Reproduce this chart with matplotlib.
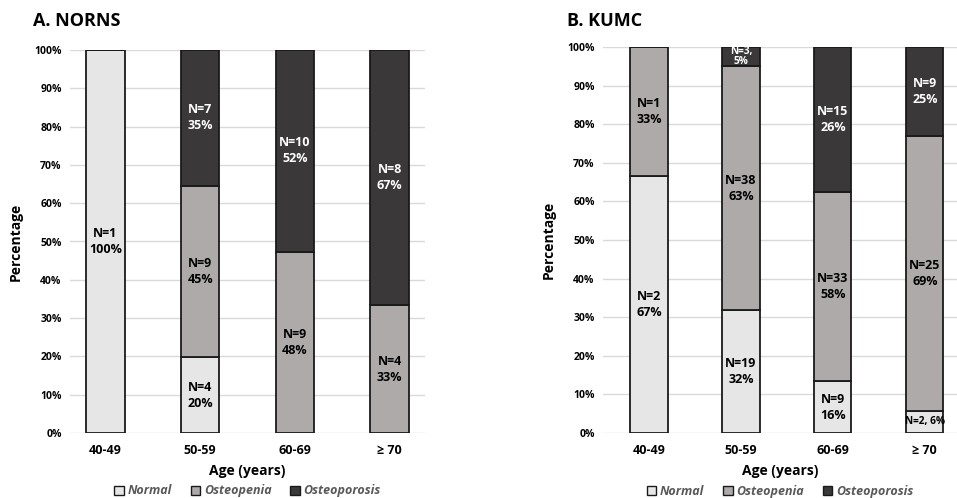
import numpy as np
import matplotlib
matplotlib.use("Agg")
import matplotlib.pyplot as plt
from matplotlib.patches import Patch

plt.rcParams['font.family'] = ['Open Sans', 'DejaVu Sans']

ages = ['40-49', '50-59', '60-69', '\u2265 70']
groups = ['Normal', 'Osteopenia', 'Osteoporosis']
colors = ['#e7e6e6', '#aeaaaa', '#3a3838']
txt_colors = ['black', 'black', 'white']

# A. NORNS  (bar heights in %, counts and % shown in the labels)
norns_height = [[100, 19.8, 0, 0], [0, 44.7, 47.3, 33.4], [0, 35.5, 52.7, 66.6]]
norns_n = [[1, 4, 0, 0], [0, 9, 9, 4], [0, 7, 10, 8]]
norns_pct = [[100, 20, 0, 0], [0, 45, 48, 33], [0, 35, 52, 67]]

# B. KUMC
kumc_height = [[66.6, 31.8, 13.4, 5.7], [33.4, 63.2, 49.1, 71.3], [0, 5.0, 37.5, 23.0]]
kumc_n = [[2, 19, 9, 2], [1, 38, 33, 25], [0, 3, 15, 9]]
kumc_pct = [[67, 32, 16, 6], [33, 63, 58, 69], [0, 5, 26, 25]]


def draw(ax, heights, counts, pcts, small=()):
    heights = np.array(heights, dtype=float) / 100
    x = np.arange(len(ages))
    bottom = np.zeros(len(ages))
    for i in range(3):
        ax.bar(x, heights[i], 0.405, bottom=bottom, color=colors[i],
               edgecolor='#1a1a1a', linewidth=1.3, zorder=3)
        for j in range(len(ages)):
            if counts[i][j] == 0:
                continue
            yc = bottom[j] + heights[i, j] / 2
            n = counts[i][j]
            if (i, j) in small:
                if i == 2:
                    s = 'N=%d,\n%d%%' % (n, pcts[i][j])
                else:
                    s = 'N=%d, %d%%' % (n, pcts[i][j])
                ax.text(x[j], yc, s, ha='center', va='center', fontsize=7.3,
                        fontweight='bold', color=txt_colors[i], zorder=4,
                        linespacing=0.95)
            else:
                ax.text(x[j], yc, 'N=%d\n%d%%' % (n, pcts[i][j]), ha='center',
                        va='center', fontsize=9, fontweight='bold',
                        color=txt_colors[i], zorder=4, linespacing=1.3)
        bottom += heights[i]
    ax.set_ylim(0, 1)
    ax.set_yticks(np.arange(0, 1.01, 0.1))
    ax.set_yticklabels(['%d%%' % v for v in range(0, 101, 10)])
    ax.set_xticks(x)
    ax.set_xticklabels(ages)
    ax.grid(axis='y', color='#d9d9d9', linewidth=1, zorder=0)
    for s in ax.spines.values():
        s.set_visible(False)
    ax.tick_params(length=0, labelsize=7.5, pad=6)
    ax.tick_params(axis='x', labelsize=9, pad=8)
    for lab in ax.get_xticklabels() + ax.get_yticklabels():
        lab.set_fontweight('bold')
    ax.set_ylabel('Percentage', fontsize=10, fontweight='bold', labelpad=8)
    ax.set_xlabel('Age (years)', fontsize=10, fontweight='bold', labelpad=5)
    handles = [Patch(facecolor=colors[i], edgecolor='#1a1a1a', linewidth=1)
               for i in range(3)]
    leg = ax.legend(handles, groups, loc='upper center', ncol=3,
                    bbox_to_anchor=(0.5, -0.118), frameon=False,
                    handlelength=0.75, handleheight=0.75, handletextpad=0.3,
                    columnspacing=1.5, borderpad=0,
                    prop={'style': 'italic', 'size': 9, 'weight': 'bold'})
    for t in leg.get_texts():
        t.set_color('#595959')


fig = plt.figure(figsize=(9.57, 4.98), dpi=100)
ax1 = fig.add_axes([70 / 957, 1 - 433 / 498, 355 / 957, 383 / 498])
ax2 = fig.add_axes([603 / 957, 1 - 433 / 498, 354 / 957, 386 / 498])

draw(ax1, norns_height, norns_n, norns_pct)
draw(ax2, kumc_height, kumc_n, kumc_pct, small=((2, 1), (0, 3)))
ax2.set_xlim(-0.5, 3.35)

fig.text(33 / 957, 1 - 21 / 498, 'A. NORNS', fontsize=13, fontweight='bold',
         va='center', ha='left')
fig.text(567 / 957, 1 - 21 / 498, 'B. KUMC', fontsize=13, fontweight='bold',
         va='center', ha='left')

fig.savefig('out.png', dpi=100)
